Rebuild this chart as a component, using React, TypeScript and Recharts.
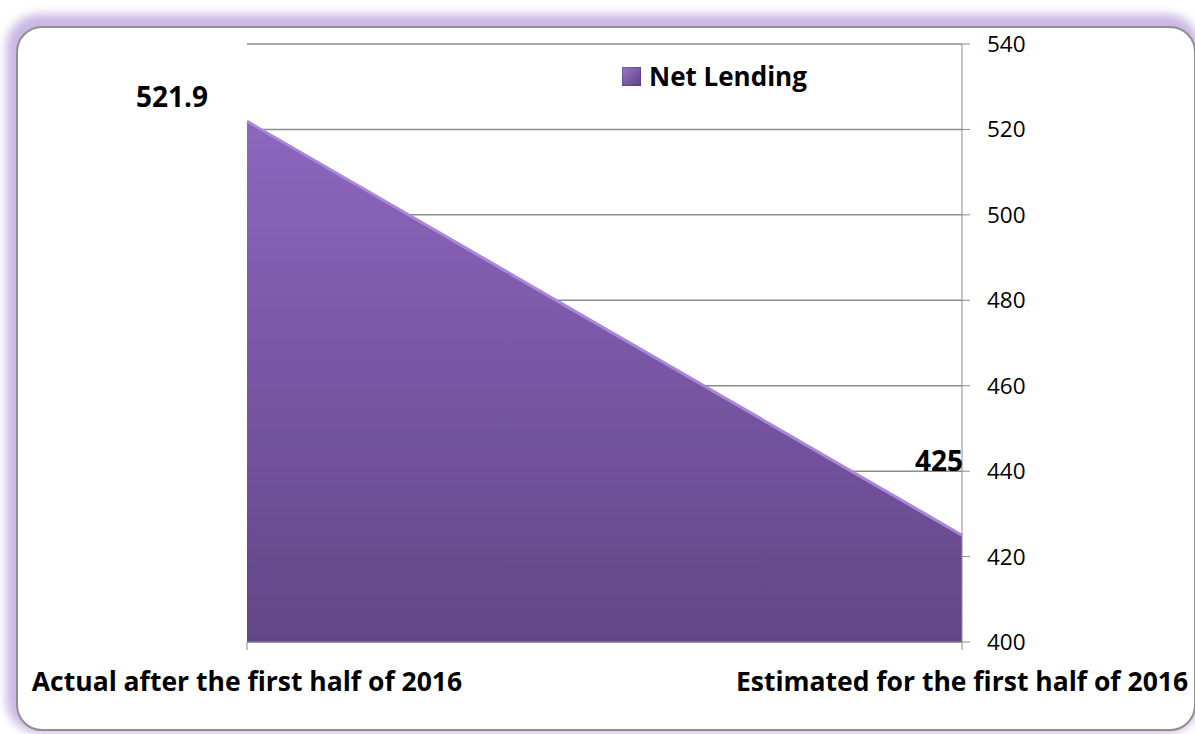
import React from 'react';
import { AreaChart, Area, XAxis, YAxis, CartesianGrid, LabelList } from 'recharts';

const categories = ['Actual after the first half of 2016', 'Estimated for the first half of 2016'];
const netLending = [521.9, 425];
const yTicks = [400, 420, 440, 460, 480, 500, 520, 540];

const data = categories.map((name, i) => ({ name, value: netLending[i] }));

const FONT = '"Open Sans", sans-serif';

function ValueLabel(props: any) {
  const { x, y, value, index } = props;
  // first label sits up-left of the point, second above the right end
  const dx = index === 0 ? -39 : 1;
  const dy = index === 0 ? -14 : -64;
  return (
    <text x={x + dx} y={y + dy} textAnchor="end" fontFamily={FONT} fontSize={28} fontWeight={700} fill="#000">
      {value}
    </text>
  );
}

export default function App() {
  return (
    <div style={{ position: 'absolute', left: 0, top: 0, width: 1195, height: 734, overflow: 'hidden', background: '#fff' }}>
      <div style={{
        position: 'absolute', left: 16, top: 26, width: 1176, height: 701,
        border: '2px solid #8f8f8f', borderRadius: 26, background: '#fff',
        boxShadow: '-3px -5px 10px 7px #cbb8e3',
      }} />
      <div style={{ position: 'absolute', left: 0, top: 0 }}>
        <AreaChart width={1195} height={734} data={data} margin={{ top: 44, right: 0, bottom: 0, left: 247 }}>
          <defs>
            <linearGradient id="nlFill" x1="0" y1="0" x2="0" y2="1">
              <stop offset="0%" stopColor="#8d66be" />
              <stop offset="100%" stopColor="#634687" />
            </linearGradient>
          </defs>
          <CartesianGrid horizontal vertical={false} stroke="#8c8c8c" strokeWidth={1.5} />
          <XAxis dataKey="name" interval={0} stroke="#8c8c8c" tickSize={8} height={92}
            tickMargin={22} tick={{ fontFamily: FONT, fontSize: 26.5, fontWeight: 700, fill: '#000' }} />
          <YAxis orientation="right" domain={[400, 540]} ticks={yTicks} stroke="#8c8c8c" tickSize={8}
            tickMargin={17} width={233} tick={{ fontFamily: FONT, fontSize: 22.5, fill: '#000' }} />
          <Area type="linear" dataKey="value" name="Net Lending" stroke="#a888d8" strokeWidth={3}
            fill="url(#nlFill)" fillOpacity={1} baseValue={400} isAnimationActive={false}>
            <LabelList dataKey="value" content={<ValueLabel />} />
          </Area>
        </AreaChart>
      </div>
      <div style={{ position: 'absolute', left: 622, top: 58, display: 'flex', alignItems: 'center', fontFamily: FONT, fontWeight: 700, fontSize: 26, color: '#000', whiteSpace: 'nowrap' }}>
        <span style={{ display: 'inline-block', width: 19, height: 19, background: 'linear-gradient(135deg,#9a78c8,#5f4284)', marginRight: 8, boxShadow: 'inset 0 0 2px #3b2a55' }} />
        Net Lending
      </div>
    </div>
  );
}
